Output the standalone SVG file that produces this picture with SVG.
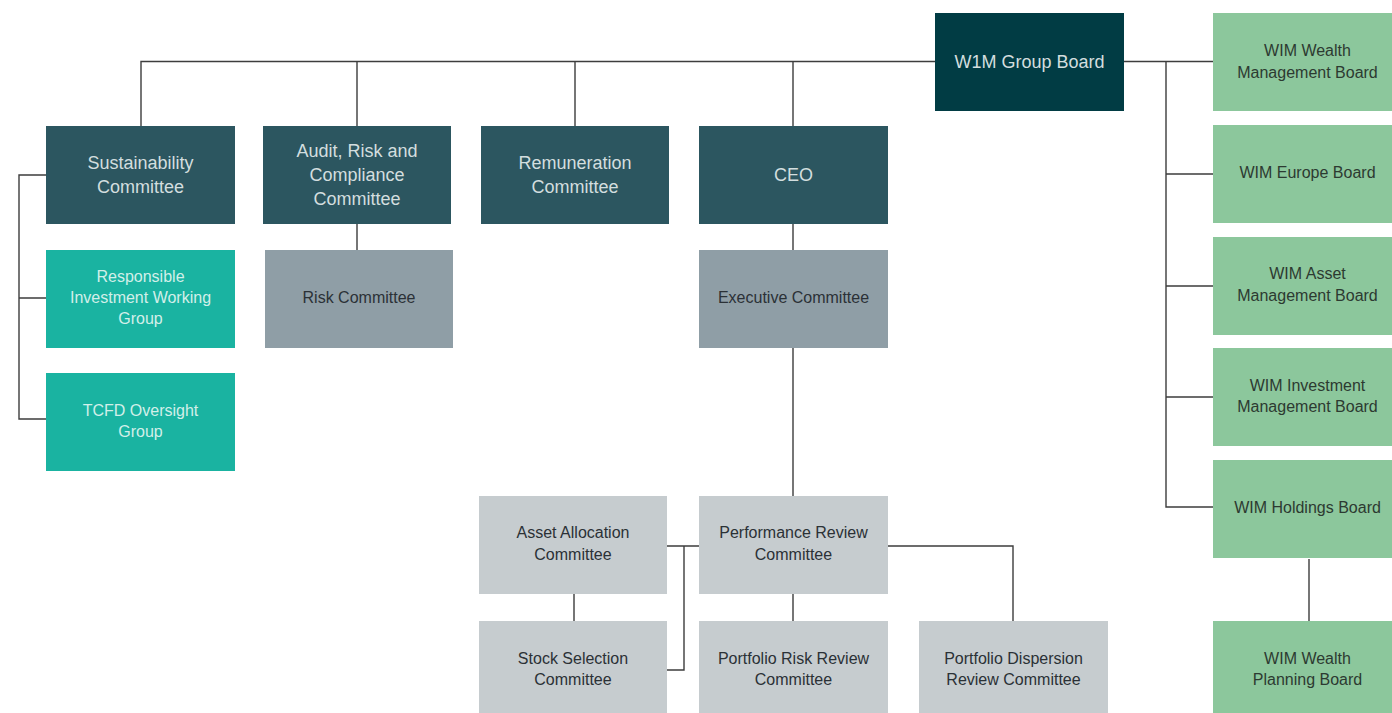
<svg xmlns="http://www.w3.org/2000/svg" width="1392" height="713" viewBox="0 0 1392 713">
<style>
.dk{fill:#2c5660}
.top{fill:#013c44}
.tl{fill:#1ab3a1}
.gr{fill:#8f9ea6}
.lg{fill:#c6cccf}
.gn{fill:#8cc79c}
text{font-family:"Liberation Sans",Arial,sans-serif;text-anchor:middle}
.t1{font-size:18px;fill:#d3dedf}
.t2{font-size:16px;fill:#d2efe9}
.t3{font-size:16px;fill:#2b3136}
.t4{font-size:16px;fill:#2c3a31}
.c{fill:none;stroke:#3d3d3d;stroke-width:1.4}
</style>
<rect width="1392" height="713" fill="#ffffff"/>
<g id="connectors">
<path class="c" d="M141,126V61.5H935M357,61.5V126M575,61.5V126M793,61.5V126"/>
<path class="c" d="M1124,61.5H1213M1166,61.5V507H1213M1166,174H1213M1166,286H1213M1166,397H1213M1309,559V621"/>
<path class="c" d="M46,175H19V419H46M19,298H46"/>
<path class="c" d="M357,224V250M793,224V250M793,348V496"/>
<path class="c" d="M667,546H699M684,546V670H667M574,594V621M793,594V621M888,546H1013V621"/>
</g>
<g id="w1m-group-board"><rect class="top" x="935" y="13" width="189" height="98"/><text class="t1" x="1029.5" y="68">W1M Group Board</text></g>
<g id="sustainability"><rect class="dk" x="46" y="126" width="189" height="98"/><text class="t1" x="140.5" y="168.5">Sustainability</text><text class="t1" x="140.5" y="192.5">Committee</text></g>
<g id="audit"><rect class="dk" x="263" y="126" width="188" height="98"/><text class="t1" x="357" y="156.5">Audit, Risk and</text><text class="t1" x="357" y="180.5">Compliance</text><text class="t1" x="357" y="204.5">Committee</text></g>
<g id="remuneration"><rect class="dk" x="481" y="126" width="188" height="98"/><text class="t1" x="575" y="168.5">Remuneration</text><text class="t1" x="575" y="192.5">Committee</text></g>
<g id="ceo"><rect class="dk" x="699" y="126" width="189" height="98"/><text class="t1" x="793.5" y="180.5">CEO</text></g>
<g id="responsible"><rect class="tl" x="46" y="250" width="189" height="98"/><text class="t2" x="140.5" y="281.5">Responsible</text><text class="t2" x="140.5" y="302.5">Investment Working</text><text class="t2" x="140.5" y="323.5">Group</text></g>
<g id="tcfd"><rect class="tl" x="46" y="373" width="189" height="98"/><text class="t2" x="140.5" y="415.5">TCFD Oversight</text><text class="t2" x="140.5" y="436.5">Group</text></g>
<g id="risk"><rect class="gr" x="265" y="250" width="188" height="98"/><text class="t3" x="359" y="302.5">Risk Committee</text></g>
<g id="executive"><rect class="gr" x="699" y="250" width="189" height="98"/><text class="t3" x="793.5" y="302.5">Executive Committee</text></g>
<g id="asset-allocation"><rect class="lg" x="479" y="496" width="188" height="98"/><text class="t3" x="573" y="537.5">Asset Allocation</text><text class="t3" x="573" y="559.5">Committee</text></g>
<g id="performance"><rect class="lg" x="699" y="496" width="189" height="98"/><text class="t3" x="793.5" y="537.5">Performance Review</text><text class="t3" x="793.5" y="559.5">Committee</text></g>
<g id="stock-selection"><rect class="lg" x="479" y="621" width="188" height="98"/><text class="t3" x="573" y="663.5">Stock Selection</text><text class="t3" x="573" y="684.5">Committee</text></g>
<g id="portfolio-risk"><rect class="lg" x="699" y="621" width="189" height="98"/><text class="t3" x="793.5" y="663.5">Portfolio Risk Review</text><text class="t3" x="793.5" y="684.5">Committee</text></g>
<g id="portfolio-dispersion"><rect class="lg" x="919" y="621" width="189" height="98"/><text class="t3" x="1013.5" y="663.5">Portfolio Dispersion</text><text class="t3" x="1013.5" y="684.5">Review Committee</text></g>
<g id="wim-wealth-management"><rect class="gn" x="1213" y="13" width="189" height="98"/><text class="t4" x="1307.5" y="55.5">WIM Wealth</text><text class="t4" x="1307.5" y="77.5">Management Board</text></g>
<g id="wim-europe"><rect class="gn" x="1213" y="125" width="189" height="98"/><text class="t4" x="1307.5" y="177.5">WIM Europe Board</text></g>
<g id="wim-asset-management"><rect class="gn" x="1213" y="237" width="189" height="98"/><text class="t4" x="1307.5" y="278.5">WIM Asset</text><text class="t4" x="1307.5" y="300.5">Management Board</text></g>
<g id="wim-investment-management"><rect class="gn" x="1213" y="348" width="189" height="98"/><text class="t4" x="1307.5" y="390.5">WIM Investment</text><text class="t4" x="1307.5" y="411.5">Management Board</text></g>
<g id="wim-holdings"><rect class="gn" x="1213" y="460" width="189" height="98"/><text class="t4" x="1307.5" y="512.5">WIM Holdings Board</text></g>
<g id="wim-wealth-planning"><rect class="gn" x="1213" y="621" width="189" height="98"/><text class="t4" x="1307.5" y="663.5">WIM Wealth</text><text class="t4" x="1307.5" y="684.5">Planning Board</text></g>
</svg>
